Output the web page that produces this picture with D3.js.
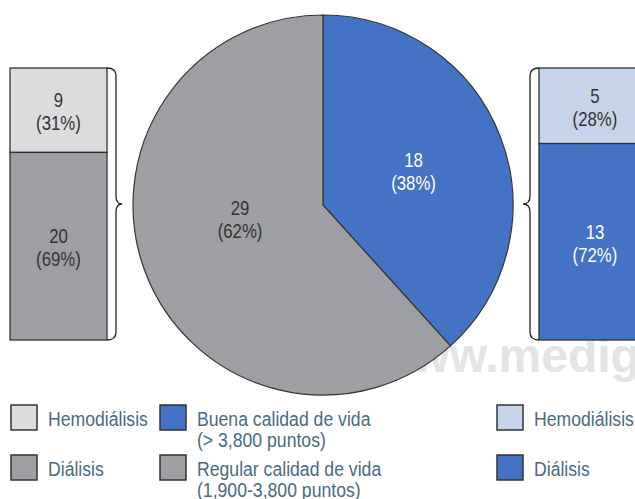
<!DOCTYPE html>
<html>
<head>
<meta charset="utf-8">
<script src="https://cdn.jsdelivr.net/npm/d3@7"></script>
<style>
  body { margin: 0; background: #fff; }
  text { font-family: "Liberation Sans", Arial, sans-serif; }
</style>
</head>
<body>
<div id="chart"></div>
<script>
// data
const pieCats = ["Buena calidad de vida", "Regular calidad de vida"];
const pieValues = [18, 29];
const piePct = ["38%", "62%"];

const splitCats = ["Hemodiálisis", "Diálisis"];
const regularValues = [9, 20];
const regularPct = ["31%", "69%"];
const buenaValues = [5, 13];
const buenaPct = ["28%", "72%"];

const legendLeft = ["Hemodiálisis", "Diálisis"];
const legendMid = [["Buena calidad de vida", "(> 3,800 puntos)"], ["Regular calidad de vida", "(1,900-3,800 puntos)"]];
const legendRight = ["Hemodiálisis", "Diálisis"];

// colours
const pieColors = ["#4472c4", "#9e9fa3"];
const regularColors = ["#dcdcde", "#9e9fa3"];
const buenaColors = ["#c6d4ea", "#4472c4"];
const stroke = "#333";
const legendText = "#4b6a82";

const svgWidth = 635, svgHeight = 499;
const svg = d3.select("#chart").append("svg")
  .attr("width", svgWidth)
  .attr("height", svgHeight);

// the original font is a condensed sans; squeeze Liberation Sans horizontally
const squeeze = 0.84;
function narrowText(parent, x, y, str, size, fill, anchor) {
  return parent.append("text")
    .attr("transform", `translate(${x},${y}) scale(${squeeze},1)`)
    .attr("text-anchor", anchor || "start")
    .attr("fill", fill)
    .style("font-size", size + "px")
    .text(str);
}

// watermark, sits under the pie
svg.append("text")
  .attr("x", 375).attr("y", 372)
  .style("font-weight", "bold")
  .style("font-size", "48px")
  .attr("fill", "#e3e4e6")
  .text("www.medigraphic.org.mx");

// pie
const cx = 323, cy = 205, radius = 190;
const pie = d3.pie().sort(null).value(d => d);
const arcs = pie(pieValues);
const arc = d3.arc().innerRadius(0).outerRadius(radius);

const pieG = svg.append("g").attr("transform", `translate(${cx},${cy})`);
pieG.selectAll("path")
  .data(arcs)
  .enter()
  .append("path")
  .attr("d", arc)
  .attr("fill", (d, i) => pieColors[i])
  .attr("stroke", stroke)
  .attr("stroke-width", 1.2);

function twoLines(g, x, y, v, p, fill) {
  narrowText(g, x, y - 3, v, 20, fill, "middle");
  narrowText(g, x, y + 20, `(${p})`, 20, fill, "middle");
}

// label placement inside slices (angle nudge + radius)
const labelNudge = [0, 0.21];
const labelRad = [97, 84];
const labelFill = ["#fff", "#333"];
arcs.forEach((d, i) => {
  const a = (d.startAngle + d.endAngle) / 2 + labelNudge[i];
  twoLines(pieG, Math.sin(a) * labelRad[i], -Math.cos(a) * labelRad[i], pieValues[i], piePct[i], labelFill[i]);
});

// stacked side bars
const barTop = 68, barBottom = 340;
function drawBar(x0, x1, values, pcts, colors, fills) {
  const total = d3.sum(values);
  const y = d3.scaleLinear().domain([0, total]).range([barTop, barBottom]);
  let acc = 0;
  const segs = values.map((v, i) => {
    const s = { v, p: pcts[i], y0: acc, y1: acc + v, i };
    acc += v;
    return s;
  });
  const g = svg.append("g");
  g.selectAll("rect")
    .data(segs)
    .enter()
    .append("rect")
    .attr("x", x0)
    .attr("y", d => y(d.y0))
    .attr("width", x1 - x0)
    .attr("height", d => y(d.y1) - y(d.y0))
    .attr("fill", d => colors[d.i])
    .attr("stroke", stroke)
    .attr("stroke-width", 1.3);
  segs.forEach(d => {
    twoLines(g, (x0 + x1) / 2, (y(d.y0) + y(d.y1)) / 2, d.v, d.p, fills[d.i]);
  });
}
drawBar(10, 107, regularValues, regularPct, regularColors, ["#333", "#333"]);
drawBar(539, 651, buenaValues, buenaPct, buenaColors, ["#333", "#fff"]);

// curly braces
function brace(x0, x1, x2, y0, y1) {
  const ym = (y0 + y1) / 2, r = 8;
  return `M${x0},${y0} Q${x1},${y0} ${x1},${y0 + r} L${x1},${ym - r} Q${x1},${ym} ${x2},${ym}` +
    ` Q${x1},${ym} ${x1},${ym + r} L${x1},${y1 - r} Q${x1},${y1} ${x0},${y1}`;
}
svg.append("path")
  .attr("d", brace(107, 116, 122, barTop, barBottom))
  .attr("fill", "none").attr("stroke", "#222").attr("stroke-width", 1.3);
svg.append("path")
  .attr("d", brace(539, 530, 523, barTop, barBottom))
  .attr("fill", "none").attr("stroke", "#222").attr("stroke-width", 1.3);

// legend
const rowY = [405, 455];
const boxSize = 26;
function legendItem(x, y, color, lines) {
  svg.append("rect")
    .attr("x", x).attr("y", y)
    .attr("width", boxSize).attr("height", boxSize - 1)
    .attr("fill", color)
    .attr("stroke", "#333")
    .attr("stroke-width", 1.5);
  lines.forEach((l, k) => {
    narrowText(svg, x + 37, y + 21 + k * 21, l, 21, legendText);
  });
}
legendLeft.forEach((l, i) => legendItem(11, rowY[i], regularColors[i], [l]));
legendMid.forEach((l, i) => legendItem(160, rowY[i], pieColors[i], l));
legendRight.forEach((l, i) => legendItem(497, rowY[i], buenaColors[i], [l]));
</script>
</body>
</html>
